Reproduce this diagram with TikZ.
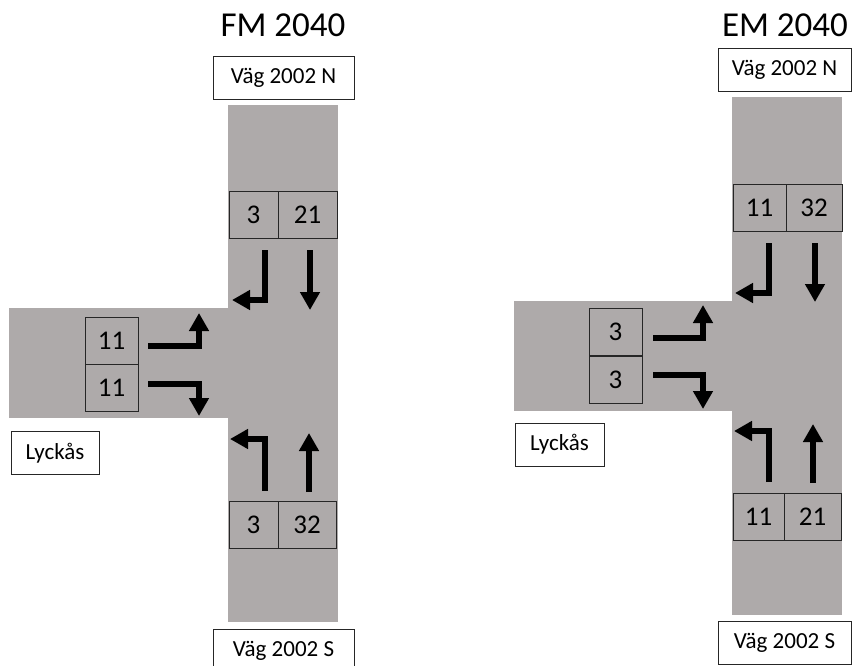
\documentclass[tikz,border=0pt]{standalone}
\usepackage{fontspec}
\setmainfont{Carlito}
\usetikzlibrary{arrows.meta}
\definecolor{roadgray}{HTML}{AEAAAA}
\tikzset{
  road/.style  = {fill=roadgray},
  cnt/.style   = {rectangle, draw=black!85, line width=0.8pt, fill=roadgray,
                  inner sep=0pt, minimum height=47pt,
                  font=\fontsize{27}{29}\selectfont},
  lbl/.style   = {rectangle, draw=black!85, line width=0.8pt, fill=white,
                  inner sep=0pt, minimum height=43pt,
                  font=\fontsize{23}{25}\selectfont},
  ttl/.style   = {inner sep=0pt, font=\fontsize{35}{40}\selectfont},
  lane/.style  = {line width=5.5pt, line join=miter,
                  -{Triangle[length=18pt,width=19pt]}},
}
\begin{document}
\begin{tikzpicture}[x=1pt,y=-1pt]
    \useasboundingbox (0,0) rectangle (852,666);
    % ---------- FM 2040 ----------
    \fill[road] (228,105) rectangle (338,622);
    \fill[road] (9,308) rectangle (338,418);
    \node[ttl] (fmtitle) at (283,25) {FM 2040};
    \node[lbl,minimum width=141pt] (fmnorth) at (283.5,77.5) {Väg 2002 N};
    \node[lbl,minimum width=141pt] (fmsouth) at (283.5,650.5) {Väg 2002 S};
    \node[lbl,minimum width=88pt] (fmwest) at (55,453) {Lyckås};
    % counts
    \node[cnt,minimum width=49pt] (fmnl) at (253.5,214.5) {3};
    \node[cnt,minimum width=59pt] (fmnt) at (307.5,214.5) {21};
    \node[cnt,minimum width=53pt] (fmwl) at (111.5,341) {11};
    \node[cnt,minimum width=53pt] (fmwr) at (111.5,388) {11};
    \node[cnt,minimum width=49pt] (fmsl) at (253.5,524.5) {3};
    \node[cnt,minimum width=58pt] (fmst) at (307,524.5) {32};
    % lane arrows
    \draw[lane] (265,250) -- (265,300) -- (232,300);
    \draw[lane] (310,250) -- (310,310);
    \draw[lane] (148,346) -- (199,346) -- (199,313);
    \draw[lane] (148,384) -- (199,384) -- (199,416);
    \draw[lane] (265,491) -- (265,439) -- (230,439);
    \draw[lane] (309,492) -- (309,433);
    % ---------- EM 2040 ----------
    \fill[road] (732,97) rectangle (842,615);
    \fill[road] (514,301) rectangle (842,411);
    \node[ttl] (emtitle) at (785,25) {EM 2040};
    \node[lbl,minimum width=133pt] (emnorth) at (784.5,70) {Väg 2002 N};
    \node[lbl,minimum width=133pt] (emsouth) at (784.5,642.5) {Väg 2002 S};
    \node[lbl,minimum width=89pt] (emwest) at (559.5,444.5) {Lyckås};
    % counts
    \node[cnt,minimum width=53pt] (emnl) at (759.5,207.5) {11};
    \node[cnt,minimum width=56pt] (emnt) at (814,207.5) {32};
    \node[cnt,minimum width=53pt] (emwl) at (615.5,332) {3};
    \node[cnt,minimum width=53pt] (emwr) at (615.5,379.5) {3};
    \node[cnt,minimum width=51pt] (emsl) at (758.5,516.5) {11};
    \node[cnt,minimum width=57pt] (emst) at (812.5,516.5) {21};
    % lane arrows
    \draw[lane] (769,243) -- (769,293) -- (735,293);
    \draw[lane] (815,243) -- (815,302);
    \draw[lane] (653,338) -- (703,338) -- (703,305);
    \draw[lane] (653,375) -- (703,375) -- (703,409);
    \draw[lane] (769,482) -- (769,431) -- (734,431);
    \draw[lane] (813,483) -- (813,424);
\end{tikzpicture}
\end{document}
